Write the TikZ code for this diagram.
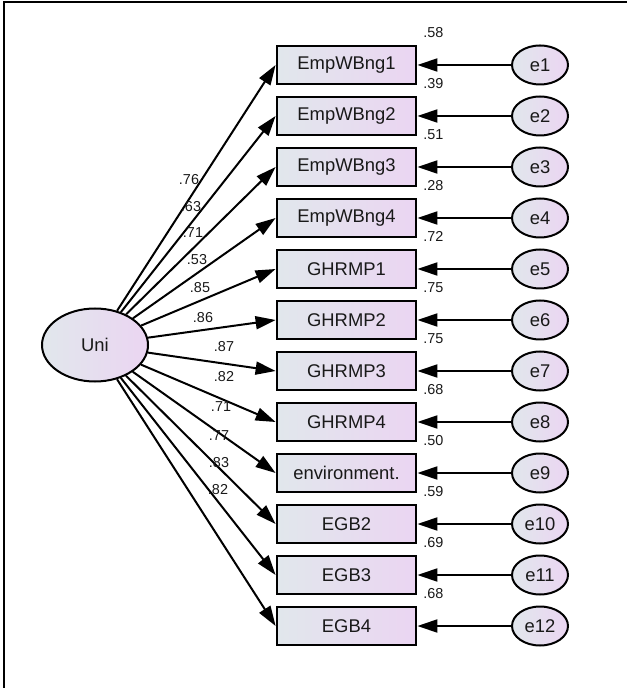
\documentclass[tikz,border=0pt]{standalone}
\usepackage{fontspec}
\setmainfont{Liberation Sans}
\usetikzlibrary{arrows.meta}
\usetikzlibrary{shapes.geometric}
\usetikzlibrary{positioning}

\definecolor{fillleft}{HTML}{E1E7EC}
\definecolor{fillright}{HTML}{EBD5F2}

\begin{document}
\begin{tikzpicture}[x=0.5pt, y=-0.5pt,
    every node/.style={font=\fontsize{9.2}{11}\selectfont, text=black!90},
    obsvar/.style={draw, line width=1.4pt, minimum width=69.5pt, minimum height=19pt, inner sep=0pt, left color=fillleft, right color=fillright},
    latvar/.style={ellipse, draw, line width=1pt, inner sep=0pt, left color=fillleft, right color=fillright},
    loadarrow/.style={-{Triangle[length=10pt, width=6.5pt]}, line width=1pt},
    est/.style={font=\fontsize{7.2}{8}\selectfont, inner sep=0pt}]

        \useasboundingbox (0,0) rectangle (627,688);
        \draw[line width=0.8pt] (4,688) -- (4,2) -- (627,2);

        \node[latvar, minimum width=53pt, minimum height=36.5pt] (uni) at (95,345) {Uni};

        % indicators, error terms, loadings (label x/y) and squared multiple correlations
        \foreach \name/\load/\rsq/\lx/\ly [count=\i] in {EmpWBng1/.76/.58/189/180, EmpWBng2/.63/.39/191/207, EmpWBng3/.71/.51/193/233, EmpWBng4/.53/.28/197/260, GHRMP1/.85/.72/200/288, GHRMP2/.86/.75/203/318, GHRMP3/.87/.75/224/347, GHRMP4/.82/.68/224/377, environment./.71/.50/221/407, EGB2/.77/.59/219/436, EGB3/.83/.69/219/463, EGB4/.82/.68/218/490} {
          \pgfmathsetmacro\rowy{65 + 51*(\i-1)}

          \node[obsvar] (v\i) at (346.5,\rowy) {\name};
          \node[latvar, minimum width=28pt, minimum height=19.5pt] (e\i) at (540,\rowy) {e\i};

          \draw[loadarrow] (uni) -- (v\i.west);
          \draw[loadarrow] (e\i) -- (v\i);

          \node[est] (l\i) at (\lx,\ly) {\load};
          \node[est] (r\i) at ([xshift=8pt, yshift=6pt]v\i.north east) {\rsq};
        }

\end{tikzpicture}
\end{document}
